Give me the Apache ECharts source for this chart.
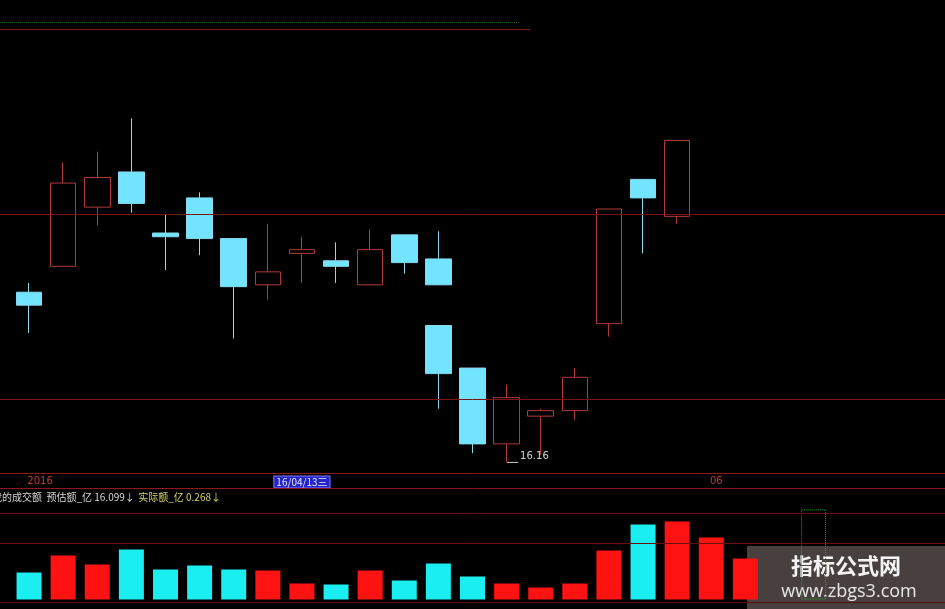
<!DOCTYPE html>
<html>
<head>
<meta charset="utf-8">
<script src="https://cdn.jsdelivr.net/npm/echarts@6/dist/echarts.min.js"></script>
<style>
html,body{margin:0;padding:0;background:#000;}
#chart{width:945px;height:609px;}
</style>
</head>
<body>
<div id="chart"></div>
<script>
// ---- data ----
const categories = ['16/03/31','16/04/01','16/04/05','16/04/06','16/04/07','16/04/08','16/04/11','16/04/12','16/04/13','16/04/14','16/04/15','16/04/18','16/04/19','16/04/20','16/04/21','16/04/22','16/04/25','16/04/26','16/04/27','16/04/28','16/04/29','16/05/03','16/05/04','16/05/05','16/05/06','16/05/09','16/05/10'];
const tickLabels = ['2016','','','','','','','','16/04/13三','','','','','','','','','','','','06','','','','','',''];
// open, close, low, high
const opens  = [17.08,17.22,17.54,17.73,17.40,17.59,17.37,17.12,17.29,17.25,17.12,17.39,17.26,16.67,16.26,16.41,16.44,16.91,17.69,17.49];
const closes = [17.01,17.67,17.70,17.56,17.38,17.37,17.11,17.19,17.31,17.22,17.31,17.24,17.12,16.26,16.51,16.44,16.62,17.53,17.59,17.90];
const lows   = [16.86,17.22,17.44,17.51,17.20,17.28,16.83,17.04,17.13,17.13,17.12,17.18,17.12,16.21,16.16,16.20,16.39,16.84,17.29,17.45];
const highs  = [17.13,17.78,17.84,18.02,17.50,17.62,17.37,17.45,17.38,17.35,17.42,17.39,17.41,16.67,16.58,16.45,16.67,17.53,17.69,17.90];
// second candle drawn in column 12 (gap candle)
const gapIndex = 12;
const gapCandle = [16.90, 16.64, 16.45, 16.90];
// volume (亿)
const volumes  = [4.82,7.86,6.25,8.93,5.36,6.07,5.36,5.18,2.86,2.68,5.18,3.39,6.43,4.11,2.86,2.14,2.86,8.75,13.39,13.93,11.07,7.32];
const volumeUp = [0,1,1,0,0,0,0,1,1,0,1,0,0,0,1,1,1,1,0,1,1,1];
const estimateIndex = 23;
const estimateValue = 16.099;
const actualValue = 0.268;

// ---- build ----
const candleData = categories.map((c,i)=> i < opens.length ? [opens[i],closes[i],lows[i],highs[i]] : '-');
const gapData = categories.map((c,i)=> i === gapIndex ? gapCandle : '-');
const volData = categories.map((c,i)=> i < volumes.length ? {value: volumes[i], itemStyle:{color: volumeUp[i] ? '#ff1212' : '#1aeef0'}} : '-');
const estData = categories.map((c,i)=> i === estimateIndex ? estimateValue : '-');

const RED_GRID = '#7a1212';
const AXIS_RED = '#8e1818';
const hl = (v, x1, x2, color, type) => {
  const ls = {color:color, type:type||'solid', width:1};
  return [{coord:[0, v], x:x1, lineStyle:ls}, {coord:[0, v], x:x2, lineStyle:ls}];
};
const px = (y, color) => {
  const ls = {color:color, type:'solid', width:1};
  return [{x:0, y:y, lineStyle:ls}, {x:945, y:y, lineStyle:ls}];
};

const chart = echarts.init(document.getElementById('chart'), null, {renderer:'canvas'});
chart.setOption({
  backgroundColor:'#000',
  animation:false,
  grid:[
    {left:12, right:12, top:0.5, height:473},
    {left:12, right:12, top:488.5, height:111}
  ],
  xAxis:[
    {type:'category', gridIndex:0, data:categories, boundaryGap:true,
     axisLine:{show:false},
     axisTick:{show:false}, splitLine:{show:false},
     axisLabel:{interval:0, margin:3, fontSize:10, hideOverlap:false,
       formatter:(v,i)=>{
         const t = tickLabels[i];
         if(!t) return '';
         if(i===0) return '{yr|'+t+'}';
         if(t.indexOf('/')>=0) return '{cur|'+t+'}';
         return '{mo|'+t+'}';
       },
       rich:{
         yr:{color:'#c23a3a', fontSize:10, fontFamily:'DejaVu Sans', padding:[0,0,0,22]},
         mo:{color:'#c23a3a', fontSize:10, fontFamily:'DejaVu Sans', padding:[0,0,0,10]},
         cur:{color:'#e8e8ff', fontSize:10, fontFamily:'"Noto Sans CJK SC"', backgroundColor:'#2424c8', borderColor:'#7c7cff', borderWidth:1, padding:[1,2,0,2]}
       }}
    },
    {type:'category', gridIndex:1, data:categories, position:'top', boundaryGap:true,
     axisLine:{show:false},
     axisTick:{show:false}, axisLabel:{show:false}, splitLine:{show:false}}
  ],
  yAxis:[
    {type:'value', gridIndex:0, min:16.1, max:18.657, show:false, splitLine:{show:false}},
    {type:'value', gridIndex:1, min:0, max:19.82, show:false, splitLine:{show:false}}
  ],
  series:[
    {type:'candlestick', name:'K线', xAxisIndex:0, yAxisIndex:0, data:candleData, barWidth:26,
     itemStyle:{color:'transparent', color0:'#72e4ff', borderColor:'#b23a3a', borderColor0:'#86d9ef', borderWidth:1},
     markLine:{silent:true, symbol:'none', label:{show:false}, animation:false,
       lineStyle:{color:RED_GRID, type:'solid', width:1},
       data:[
         hl(17.5, 0, 945, RED_GRID),
         hl(16.5, 0, 945, RED_GRID),
         hl(18.5, 0, 530, '#801a1a'),
         hl(18.54, 0, 520, '#1e5a1e', 'dotted'),
         px(473.5, AXIS_RED),
         px(488.5, AXIS_RED)
       ]},
     markPoint:{symbol:'rect', symbolSize:[11,1], symbolOffset:[6,0], itemStyle:{color:'#cfcfcf'},
       label:{show:true, position:'right', distance:2, offset:[0,-6], color:'#d4d4d4', fontSize:10, fontFamily:'DejaVu Sans',
         formatter:p=>Number(p.value).toFixed(2)},
       data:[{type:'min', valueDim:'lowest'}]}
    },
    {type:'candlestick', name:'K线2', xAxisIndex:0, yAxisIndex:0, data:gapData, barWidth:26,
     itemStyle:{color:'transparent', color0:'#72e4ff', borderColor:'#b23a3a', borderColor0:'#86d9ef', borderWidth:1}},
    {type:'bar', name:'成交额', xAxisIndex:1, yAxisIndex:1, data:volData, barWidth:25, barGap:'-100%',
     markLine:{silent:true, symbol:'none', label:{show:false}, animation:false,
       lineStyle:{color:RED_GRID, type:'solid', width:1},
       data:[
         hl(10, 0, 945, '#6a1010'),
         hl(15.36, 0, 945, '#6a1010'),
         px(602.5, '#5a0c0c')
       ]}},
    {type:'bar', name:'预估额', xAxisIndex:1, yAxisIndex:1, data:estData, barWidth:25, barGap:'-100%',
     itemStyle:{color:'transparent', borderColor:'#2fa02f', borderWidth:1, borderType:'dotted'}}
  ],
  graphic:[
    {type:'text', x:-8, y:491, z:100, style:{
      text:'{w|我的成交额  预估额_亿 ' + estimateValue.toFixed(3) + '↓} {y|实际额_亿 ' + actualValue.toFixed(3) + '↓}',
      rich:{
        w:{fill:'#d6d6d6', fontSize:10, fontFamily:'"Noto Sans CJK SC"'},
        y:{fill:'#d2d26a', fontSize:10, fontFamily:'"Noto Sans CJK SC"'}
      }}},
    {type:'group', z:200, children:[
      {type:'rect', shape:{x:747, y:546, width:198, height:63}, style:{fill:'#48403f'}},
      {type:'text', x:846, y:566, style:{text:'指标公式网', fill:'#f4f4f4', font:'bold 22px "Noto Sans CJK SC"', align:'center', verticalAlign:'middle'}},
      {type:'text', x:849, y:592, style:{text:'www.zbgs3.com', fill:'#e8e8e8', font:'18px "Open Sans"', align:'center', verticalAlign:'middle'}}
    ]}
  ]
});
</script>
</body>
</html>
